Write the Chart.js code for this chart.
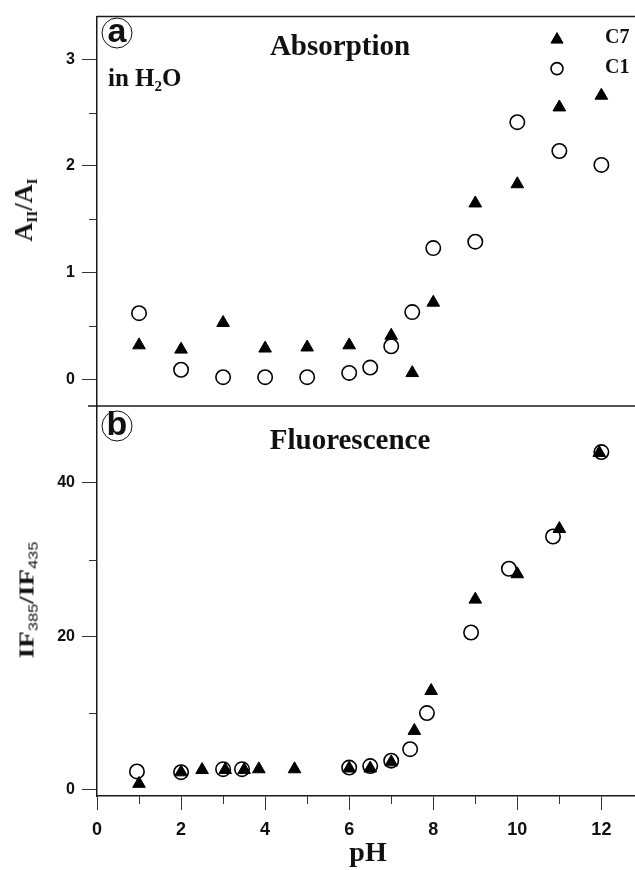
<!DOCTYPE html>
<html>
<head>
<meta charset="utf-8">
<script src="https://cdn.jsdelivr.net/npm/chart.js@4.4.1/dist/chart.umd.min.js"></script>
<style>
  html, body { margin: 0; padding: 0; background: #fff; }
  #wrap { position: relative; width: 635px; height: 870px; overflow: hidden; }
  canvas { position: absolute; left: 0; top: 0; }
  .t {
    position: absolute; transform: translate(-50%, -50%); white-space: nowrap; line-height: 1;
    font-family: 'Liberation Serif', 'Times New Roman', serif; font-weight: bold; color: #111;
  }
  .l { transform: translate(0, -50%); }
  .rot { transform: translate(-50%, -50%) rotate(-90deg); }
  .wide { transform: translate(-50%, -50%) rotate(-90deg) scaleX(1.3); }
  .sub { position: relative; top: 0.3em; font-size: 0.6em; }
  .subs { position: relative; top: 0.35em; font-size: 0.6em; font-family: 'Liberation Sans', Arial, sans-serif; font-weight: normal; }
  .circ {
    position: absolute; width: 29px; height: 29px; border: 1.6px solid #111; border-radius: 50%;
    transform: translate(-50%, -50%); font: bold 34px 'Liberation Sans', Arial, sans-serif;
    line-height: 23px; text-align: center; color: #111;
  }
</style>
</head>
<body>
<div id="wrap">
  <canvas id="fluChart" width="635" height="870"></canvas>
  <canvas id="absChart" width="635" height="870"></canvas>

  <div class="circ" style="left:117px; top:33px;">a</div>
  <div class="t" style="left:340px; top:45px; font-size:29px;">Absorption</div>
  <div class="t l" style="left:108px; top:77px; font-size:25px;">in H<span class="sub">2</span>O</div>
  <div class="t l" style="left:605px; top:36px; font-size:20px;">C7</div>
  <div class="t l" style="left:605px; top:66px; font-size:20px;">C1</div>
  <div class="t rot" style="left:24px; top:210px; font-size:26px;">A<span class="sub">II</span>/A<span class="sub">I</span></div>

  <div class="circ" style="left:117px; top:426px;">b</div>
  <div class="t" style="left:350px; top:439px; font-size:29px;">Fluorescence</div>
  <div class="t wide" style="left:27px; top:600px; font-size:21px;">IF<span class="subs">385</span>/IF<span class="subs">435</span></div>

  <div class="t" style="left:368px; top:852px; font-size:28px;">pH</div>
</div>

<script>
// absorption ratio A_II/A_I (panel a)
const absPhC7 = [1, 2, 3, 4, 5, 6, 7, 7.5, 8, 9, 10, 11, 12];
const absC7 = [0.32, 0.28, 0.53, 0.29, 0.30, 0.32, 0.41, 0.06, 0.72, 1.65, 1.83, 2.55, 2.66];
const absPhC1 = [1, 2, 3, 4, 5, 6, 6.5, 7, 7.5, 8, 9, 10, 11, 12];
const absC1 = [0.62, 0.09, 0.02, 0.02, 0.02, 0.06, 0.11, 0.31, 0.63, 1.23, 1.29, 2.41, 2.14, 2.01];

// fluorescence ratio IF385/IF435 (panel b)
const fluPhC7 = [1, 2, 2.5, 3.05, 3.5, 3.85, 4.7, 6, 6.5, 7, 7.55, 7.95, 9, 10, 11, 11.95];
const fluC7 = [0.8, 2.3, 2.6, 2.6, 2.6, 2.7, 2.7, 2.8, 2.8, 3.6, 7.7, 12.9, 24.8, 28.1, 34.0, 43.9];
const fluPhC1 = [0.95, 2, 3, 3.45, 6, 6.5, 7, 7.45, 7.85, 8.9, 9.8, 10.85, 12];
const fluC1 = [2.4, 2.3, 2.7, 2.7, 2.9, 3.1, 3.8, 5.3, 10.0, 20.5, 28.8, 33.0, 44.0];

// ticks
const absTicks = [0, 1, 2, 3];
const absMinor = [0.5, 1.5, 2.5];
const fluTicks = [0, 20, 40];
const fluMinor = [10, 30];
const phTicks = [0, 2, 4, 6, 8, 10, 12];
const phMinor = [1, 3, 5, 7, 9, 11];

const lineCol = '#1a1a1a';
const tickCol = '#333';
const sansBold = "'Liberation Sans', Arial, sans-serif";

function pairs(xs, ys) {
    return xs.map((x, i) => ({ x: x, y: ys[i] }));
}

function c7Set(data) {
    return {
        label: 'C7', data: data, pointStyle: 'triangle', pointRadius: 7.3, pointHoverRadius: 7.3,
        pointBackgroundColor: '#000', pointBorderColor: '#000', pointBorderWidth: 1
    };
}
function c1Set(data) {
    return {
        label: 'C1', data: data, pointStyle: 'circle', pointRadius: 7.2, pointHoverRadius: 7.2,
        pointBackgroundColor: 'rgba(0,0,0,0)', pointBorderColor: '#000', pointBorderWidth: 1.6
    };
}

// extra lines the axes do not give: frame edges, minor ticks, legend marks
const framePlugin = {
    id: 'frame',
    afterDraw(chart, args, opts) {
        const { ctx, chartArea: a, scales } = chart;
        const line = (x1, y1, x2, y2) => { ctx.beginPath(); ctx.moveTo(x1, y1); ctx.lineTo(x2, y2); ctx.stroke(); };
        ctx.save();
        ctx.strokeStyle = lineCol;
        ctx.lineWidth = 1.5;
        if (opts.topLine) line(a.left, a.top, a.right, a.top);
        if (opts.bottomLine) line(a.left - 9, a.bottom, a.right, a.bottom);
        ctx.strokeStyle = tickCol;
        ctx.lineWidth = 1;
        (opts.yMinor || []).forEach(v => {
            const y = Math.round(scales.y.getPixelForValue(v)) + 0.5;
            line(a.left - 8, y, a.left, y);
        });
        (opts.xMinor || []).forEach(v => {
            const x = Math.round(scales.x.getPixelForValue(v)) + 0.5;
            line(x, a.bottom, x, a.bottom + 8);
        });
        if (opts.legend) {
            chart.data.datasets.forEach((ds, i) => {
                ctx.fillStyle = ds.pointBackgroundColor;
                ctx.strokeStyle = ds.pointBorderColor;
                ctx.lineWidth = ds.pointBorderWidth;
                Chart.helpers.drawPoint(ctx, {
                    pointStyle: ds.pointStyle, radius: i === 0 ? 7 : 6, borderWidth: ds.pointBorderWidth, rotation: 0
                }, a.right - 78, a.top + 23 + i * 29);
            });
        }
        ctx.restore();
    }
};

function yScale(min, max, ticks) {
    return {
        type: 'linear', min: min, max: max,
        afterFit(s) { s.width = 97; },
        afterBuildTicks(s) { s.ticks = ticks.map(v => ({ value: v })); },
        grid: { drawOnChartArea: false, drawTicks: true, tickLength: 15, tickColor: tickCol, tickWidth: 1 },
        border: { display: true, color: lineCol, width: 1.5 },
        ticks: { padding: 7, color: '#111', font: { family: sansBold, size: 16, weight: 'bold' } }
    };
}

new Chart(document.getElementById('absChart'), {
    type: 'scatter',
    data: { datasets: [c7Set(pairs(absPhC7, absC7)), c1Set(pairs(absPhC1, absC1))] },
    options: {
        responsive: false, animation: false, events: [],
        layout: { autoPadding: false, padding: { top: 14, left: 0, right: 0, bottom: 464 } },
        scales: {
            x: { type: 'linear', min: 0, max: 12.8, display: false },
            y: yScale(-0.25, 3.4, absTicks)
        },
        plugins: {
            legend: { display: false }, tooltip: { enabled: false },
            frame: { topLine: true, bottomLine: true, yMinor: absMinor, legend: true }
        }
    },
    plugins: [framePlugin]
});

new Chart(document.getElementById('fluChart'), {
    type: 'scatter',
    data: { datasets: [c7Set(pairs(fluPhC7, fluC7)), c1Set(pairs(fluPhC1, fluC1))] },
    options: {
        responsive: false, animation: false, events: [],
        layout: { autoPadding: false, padding: { top: 406, left: 0, right: 0, bottom: 0 } },
        scales: {
            x: {
                type: 'linear', min: 0, max: 12.8,
                afterFit(s) { s.height = 74; },
                afterBuildTicks(s) { s.ticks = phTicks.map(v => ({ value: v })); },
                grid: { drawOnChartArea: false, drawTicks: true, tickLength: 14, tickColor: tickCol, tickWidth: 1 },
                border: { display: true, color: lineCol, width: 1.5 },
                ticks: { padding: 9, maxRotation: 0, color: '#111', font: { family: sansBold, size: 18, weight: 'bold' } }
            },
            y: yScale(-0.8, 50, fluTicks)
        },
        plugins: {
            legend: { display: false }, tooltip: { enabled: false },
            frame: { yMinor: fluMinor, xMinor: phMinor }
        }
    },
    plugins: [framePlugin]
});
</script>
</body>
</html>
